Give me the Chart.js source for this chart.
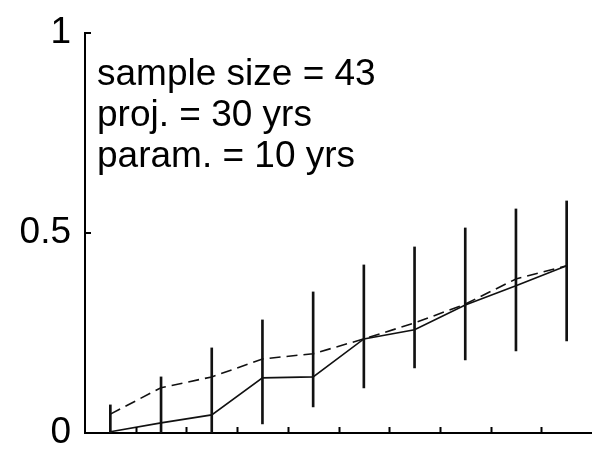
<!DOCTYPE html>
<html>
<head>
<meta charset="utf-8">
<script src="https://cdn.jsdelivr.net/npm/chart.js@4/dist/chart.umd.min.js"></script>
<style>
  html, body { margin: 0; padding: 0; background: #fff; }
  canvas { display: block; }
</style>
</head>
<body>
<canvas id="c" width="592" height="458"></canvas>
<script>
// Projection step positions and their values
const steps = [1, 2, 3, 4, 5, 6, 7, 8, 9, 10];
const observed = [0.003, 0.025, 0.045, 0.1375, 0.14, 0.235, 0.258, 0.32, 0.368, 0.418];
const projected = [0.047, 0.113, 0.14, 0.185, 0.198, 0.235, 0.275, 0.322, 0.385, 0.418];
const rangeLow = [0, 0, 0, 0.0225, 0.065, 0.1125, 0.1625, 0.1825, 0.205, 0.23];
const rangeHigh = [0.07, 0.14, 0.2125, 0.2825, 0.3525, 0.42, 0.465, 0.5125, 0.56, 0.58];
const xTickValues = [1.5, 2.5, 3.5, 4.5, 5.5, 6.5, 7.5, 8.5, 9.5];
const yTickValues = [0, 0.5, 1];
const infoLines = ['sample size = 43', 'proj. = 30 yrs', 'param. = 10 yrs'];

const FONT = '"Liberation Sans", Arial, Helvetica, sans-serif';

// Short tick marks pointing into the plot area
const inwardTicks = {
  id: 'inwardTicks',
  afterDatasetsDraw(chart) {
    const { ctx, chartArea, scales } = chart;
    const len = 6;
    ctx.save();
    ctx.strokeStyle = '#000';
    ctx.lineWidth = 2;
    ctx.beginPath();
    scales.x.ticks.forEach(t => {
      const px = Math.round(scales.x.getPixelForValue(t.value)) + 0.5;
      ctx.moveTo(px, chartArea.bottom);
      ctx.lineTo(px, chartArea.bottom - len);
    });
    scales.y.ticks.forEach(t => {
      const py = Math.round(scales.y.getPixelForValue(t.value));
      ctx.moveTo(chartArea.left, py);
      ctx.lineTo(chartArea.left + len, py);
    });
    ctx.stroke();
    ctx.restore();
  }
};

// Text block in the upper-left of the plot
const infoText = {
  id: 'infoText',
  afterDraw(chart) {
    const { ctx, chartArea, scales } = chart;
    ctx.save();
    ctx.fillStyle = '#000';
    ctx.font = '37px ' + FONT;
    ctx.textAlign = 'left';
    ctx.textBaseline = 'alphabetic';
    const x0 = chartArea.left + 12;
    const y0 = scales.y.getPixelForValue(0.87);
    infoLines.forEach((s, i) => ctx.fillText(s, x0, y0 + i * 41));
    ctx.restore();
  }
};

new Chart(document.getElementById('c'), {
  data: {
    datasets: [
      {
        type: 'bar',
        data: steps.map((x, i) => ({ x: x, y: [rangeLow[i], rangeHigh[i]] })),
        backgroundColor: '#111',
        borderWidth: 0,
        barThickness: 2,
        order: 3
      },
      {
        type: 'line',
        data: steps.map((x, i) => ({ x: x, y: projected[i] })),
        borderColor: '#111',
        borderWidth: 1.6,
        borderDash: [11, 6],
        pointRadius: 0,
        tension: 0,
        fill: false,
        order: 1
      },
      {
        type: 'line',
        data: steps.map((x, i) => ({ x: x, y: observed[i] })),
        borderColor: '#111',
        borderWidth: 1.6,
        pointRadius: 0,
        tension: 0,
        fill: false,
        order: 2
      }
    ]
  },
  options: {
    responsive: false,
    animation: false,
    layout: { padding: { top: 33, right: 0, bottom: 0, left: 0 } },
    plugins: {
      legend: { display: false },
      tooltip: { enabled: false },
      title: { display: false }
    },
    scales: {
      x: {
        type: 'linear',
        position: 'bottom',
        min: 0.5,
        max: 10.5,
        offset: false,
        afterBuildTicks: s => { s.ticks = xTickValues.map(v => ({ value: v })); },
        afterFit: s => { s.height = 25; },
        ticks: { display: false },
        grid: { display: false, drawTicks: false },
        border: { display: true, color: '#000', width: 2 }
      },
      y: {
        type: 'linear',
        min: 0,
        max: 1,
        afterBuildTicks: s => { s.ticks = yTickValues.map(v => ({ value: v })); },
        afterFit: s => { s.width = 85; },
        ticks: {
          color: '#000',
          padding: 14,
          font: { family: FONT, size: 37, lineHeight: 0.6 },
          callback: v => String(v)
        },
        grid: { display: false, drawTicks: false },
        border: { display: true, color: '#000', width: 2 }
      }
    }
  },
  plugins: [inwardTicks, infoText]
});
</script>
</body>
</html>
